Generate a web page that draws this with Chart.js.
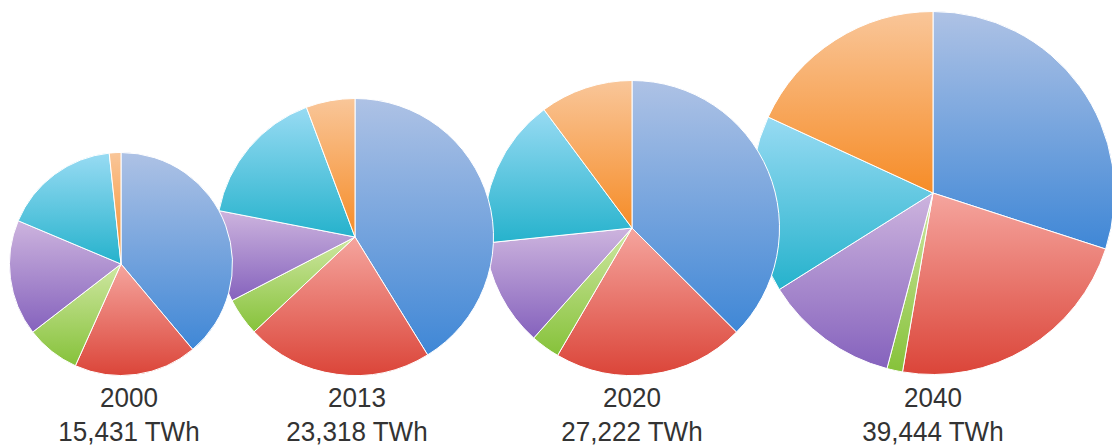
<!DOCTYPE html>
<html lang="en">
<head>
    <meta charset="UTF-8">
    <title>Electricity generation mix by year</title>
    <script src="https://cdn.jsdelivr.net/npm/chart.js"></script>
    <style>
        html, body {
            margin: 0;
            padding: 0;
            background: #fff;
        }
        #stage {
            position: relative;
            width: 1112px;
            height: 447px;
            overflow: hidden;
        }
        .pie {
            position: absolute;
        }
        .label {
            position: absolute;
            width: 220px;
            text-align: center;
            font-family: "Liberation Sans", Arial, sans-serif;
            font-size: 28px;
            line-height: 34px;
            color: #333;
            transform: scaleX(0.93);
            transform-origin: center top;
            white-space: nowrap;
        }
    </style>
</head>
<body>
    <div id="stage"></div>

    <script>
        // data (TWh), slices go clockwise from 12 o'clock
        const years = ['2000', '2013', '2020', '2040'];
        const totals = ['15,431 TWh', '23,318 TWh', '27,222 TWh', '39,444 TWh'];
        const sources = ['Coal', 'Gas', 'Oil', 'Nuclear', 'Hydro', 'Other renewables'];
        const coal     = [6000, 9610, 10200, 11830];
        const gas      = [2750, 5080, 5700, 8950];
        const oil      = [1210, 1030, 870, 550];
        const nuclear  = [2590, 2480, 3200, 4730];
        const hydro    = [2620, 3790, 4480, 6230];
        const otherRen = [260, 1330, 2770, 7150];

        // layout: pie centres / radii and label centres (px)
        const pieX = [121, 355, 632, 933];
        const pieY = [264, 237, 228, 193];
        const pieR = [110, 137, 146, 180];
        const labelX = [129, 357, 632, 933];
        const labelTop = 381;

        // light (top) -> dark (bottom) colours for each source
        const topColors = ['#aec2e5', '#f5a59e', '#cfe7a2', '#cdb4de', '#98dbf3', '#f9c699'];
        const bottomColors = ['#3f87d6', '#db4539', '#86c23a', '#8562bd', '#25b2cc', '#f68c27'];

        function sliceGradient(context) {
            const i = context.dataIndex;
            const chart = context.chart;
            const area = chart.chartArea;
            if (!area) return topColors[i];
            const values = context.dataset.data;
            const total = values.reduce((a, b) => a + b, 0);
            let before = 0;
            for (let k = 0; k < i; k++) before += values[k];

            const meta = chart.getDatasetMeta(0);
            const r = (meta.controller && meta.controller.outerRadius) || Math.min(area.width, area.height) / 2;
            const cy = (area.top + area.bottom) / 2;
            const a0 = -Math.PI / 2 + 2 * Math.PI * before / total;
            const a1 = a0 + 2 * Math.PI * values[i] / total;

            const ys = [cy, cy + r * Math.sin(a0), cy + r * Math.sin(a1)];
            if (a0 <= Math.PI / 2 && a1 >= Math.PI / 2) ys.push(cy + r);
            if (a0 <= -Math.PI / 2 + 1e-6 || a1 >= 1.5 * Math.PI - 1e-6) ys.push(cy - r);
            const y0 = Math.min(...ys);
            const y1 = Math.max(...ys);

            const g = chart.ctx.createLinearGradient(0, y0, 0, Math.max(y1, y0 + 1));
            g.addColorStop(0, topColors[i]);
            g.addColorStop(1, bottomColors[i]);
            return g;
        }

        const stage = document.getElementById('stage');
        const pad = 2;

        years.forEach((year, p) => {
            const box = document.createElement('div');
            box.className = 'pie';
            const size = 2 * (pieR[p] + pad);
            box.style.left = (pieX[p] - pieR[p] - pad) + 'px';
            box.style.top = (pieY[p] - pieR[p] - pad) + 'px';
            box.style.width = size + 'px';
            box.style.height = size + 'px';
            box.style.zIndex = 10 - p; // earlier pies sit on top
            const canvas = document.createElement('canvas');
            box.appendChild(canvas);
            stage.appendChild(box);

            new Chart(canvas.getContext('2d'), {
                type: 'pie',
                data: {
                    labels: sources,
                    datasets: [{
                        data: [coal[p], gas[p], oil[p], nuclear[p], hydro[p], otherRen[p]],
                        backgroundColor: sliceGradient,
                        borderColor: '#fff',
                        borderWidth: 1
                    }]
                },
                options: {
                    responsive: true,
                    maintainAspectRatio: false,
                    animation: false,
                    events: [],
                    layout: { padding: 0 },
                    plugins: {
                        legend: { display: false },
                        tooltip: { enabled: false }
                    }
                }
            });

            const label = document.createElement('div');
            label.className = 'label';
            label.style.left = (labelX[p] - 110) + 'px';
            label.style.top = labelTop + 'px';
            label.innerHTML = year + '<br>' + totals[p];
            stage.appendChild(label);
        });
    </script>
</body>
</html>
